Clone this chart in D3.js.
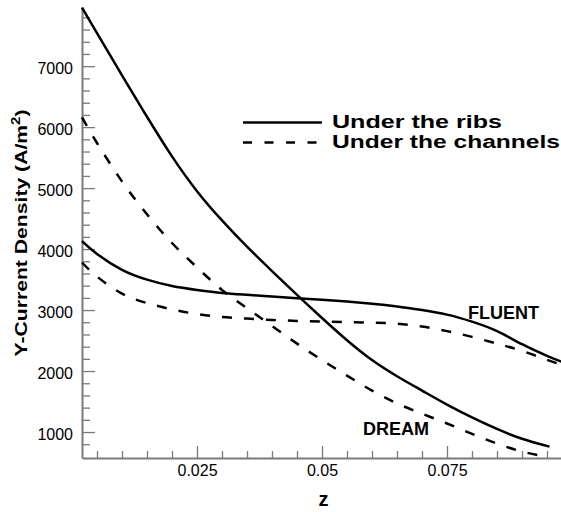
<!DOCTYPE html>
<html>
<head>
<meta charset="utf-8">
<script src="https://cdn.jsdelivr.net/npm/d3@7"></script>
<style>
  html, body { margin: 0; padding: 0; background: #fff; }
  svg { display: block; }
  text { font-family: "Liberation Sans", Arial, Helvetica, sans-serif; fill: #000; }
</style>
</head>
<body>
<svg id="chart" width="561" height="512"></svg>
<script>
// Sample positions along z (shared part of every profile)
const zSamples = [0.002, 0.005, 0.01, 0.015, 0.02, 0.025, 0.03, 0.035, 0.04, 0.045,
                  0.05, 0.055, 0.06, 0.065, 0.07, 0.075, 0.08, 0.085, 0.09];
const zDreamEnd = [0.0955];
const zDreamChanEnd = [0.095];
const zFluentEnd = [0.095, 0.098];

// Y-current density (A/m^2)
const dreamRibs      = [7960, 7540, 6850, 6170, 5520, 4950, 4470, 4040, 3640, 3250,
                        2870, 2505, 2180, 1915, 1680, 1450, 1240, 1050, 890, 760];
const dreamChannels  = [6160, 5740, 5110, 4570, 4100, 3700, 3330, 3030, 2740, 2450,
                        2180, 1925, 1680, 1470, 1300, 1140, 970, 810, 680, 590];
const fluentRibs     = [4130, 3920, 3660, 3500, 3395, 3330, 3280, 3250, 3222, 3195,
                        3170, 3140, 3105, 3060, 3000, 2925, 2810, 2655, 2440, 2250, 2150];
const fluentChannels = [3780, 3550, 3270, 3115, 3010, 2935, 2885, 2860, 2838, 2822,
                        2810, 2802, 2795, 2775, 2730, 2655, 2560, 2450, 2330, 2185, 2100];

// Axis ticks
const xMajorTicks = [0.025, 0.05, 0.075];
const xTickLabels = ["0.025", "0.05", "0.075"];
const yMajorTicks = [1000, 2000, 3000, 4000, 5000, 6000, 7000];

const legendLabels = ["Under the ribs", "Under the channels"];
const solverLabels = ["FLUENT", "DREAM"];

const svg = d3.select("#chart");

const x = d3.scaleLinear().domain([0.002, 0.098]).range([82, 562]);
const y = d3.scaleLinear().domain([574, 7970]).range([458, 7]);

const axisColor = "#7a7a7a";

// Minor ticks
const xMinor = d3.range(1, 20).map(i => +(i * 0.005).toFixed(3)).filter(v => !xMajorTicks.includes(v));
const yMinor = d3.range(800, 7801, 200).filter(v => v % 1000 !== 0);

svg.append("g")
  .attr("transform", `translate(0,${y.range()[0]})`)
  .call(d3.axisBottom(x).tickValues(xMinor).tickSizeInner(-7).tickSizeOuter(0).tickFormat(""))
  .call(g => g.select(".domain").remove())
  .call(g => g.selectAll("line").attr("stroke", axisColor).attr("stroke-width", 1.3));

svg.append("g")
  .attr("transform", `translate(${x.range()[0]},0)`)
  .call(d3.axisLeft(y).tickValues(yMinor).tickSizeInner(-8).tickSizeOuter(0).tickFormat(""))
  .call(g => g.select(".domain").remove())
  .call(g => g.selectAll("line").attr("stroke", axisColor).attr("stroke-width", 1.3));

// Major axes
const xAxis = svg.append("g")
  .attr("transform", `translate(0,${y.range()[0]})`)
  .call(d3.axisBottom(x).tickValues(xMajorTicks)
    .tickFormat((d, i) => xTickLabels[i])
    .tickSizeInner(-12).tickSizeOuter(0).tickPadding(7));
xAxis.select(".domain").attr("stroke", axisColor).attr("stroke-width", 2);
xAxis.selectAll("line").attr("stroke", axisColor).attr("stroke-width", 1.3);
xAxis.selectAll("text").attr("font-size", 16).attr("fill", "#000")
  .attr("font-family", "Liberation Sans, Arial, sans-serif");

const yAxis = svg.append("g")
  .attr("transform", `translate(${x.range()[0]},0)`)
  .call(d3.axisLeft(y).tickValues(yMajorTicks).tickFormat(d3.format("d"))
    .tickSizeInner(-13).tickSizeOuter(0).tickPadding(9));
yAxis.select(".domain").attr("stroke", axisColor).attr("stroke-width", 2);
yAxis.selectAll("line").attr("stroke", axisColor).attr("stroke-width", 1.3);
yAxis.selectAll("text").attr("font-size", 16).attr("fill", "#000").attr("dy", "0.48em")
  .attr("font-family", "Liberation Sans, Arial, sans-serif");

// Axis titles
svg.append("text")
  .attr("x", 323.5).attr("y", 506)
  .attr("text-anchor", "middle")
  .attr("font-size", 20).attr("font-weight", "bold")
  .text("z");

const yTitle = svg.append("text")
  .attr("transform", "translate(27,233) rotate(-90)")
  .attr("text-anchor", "middle")
  .attr("font-size", 17).attr("font-weight", "bold")
  .attr("textLength", 247).attr("lengthAdjust", "spacingAndGlyphs");
yTitle.append("tspan").text("Y-Current Density (A/m");
yTitle.append("tspan").attr("dy", -7).attr("font-size", 12).text("2");
yTitle.append("tspan").attr("dy", 7).text(")");

// Profiles, drawn as smooth splines through the samples
const line = d3.line()
  .x(d => x(d[0]))
  .y(d => y(d[1]))
  .curve(d3.curveNatural);

const series = [
  { z: zSamples.concat(zDreamEnd), v: dreamRibs, dash: null },
  { z: zSamples.concat(zDreamChanEnd), v: dreamChannels, dash: "10,12" },
  { z: zSamples.concat(zFluentEnd), v: fluentRibs, dash: null },
  { z: zSamples.concat(zFluentEnd), v: fluentChannels, dash: "10,12" }
];

svg.append("g").selectAll("path")
  .data(series)
  .join("path")
  .attr("d", s => line(s.z.map((z, i) => [z, s.v[i]])))
  .attr("fill", "none")
  .attr("stroke", "#000")
  .attr("stroke-width", 2.5)
  .attr("stroke-dasharray", s => s.dash);

// Solver annotations
svg.append("text")
  .attr("x", 468).attr("y", 319)
  .attr("font-size", 18).attr("font-weight", "bold")
  .text(solverLabels[0]);
svg.append("text")
  .attr("x", 363).attr("y", 435)
  .attr("font-size", 18).attr("font-weight", "bold")
  .text(solverLabels[1]);

// Legend
const legend = svg.append("g");
const legendRows = [
  { y: 122.5, dash: null, len: 170 },
  { y: 142.5, dash: "9,12.5", len: 228 }
];
legendRows.forEach((r, i) => {
  legend.append("line")
    .attr("x1", 243).attr("x2", 322)
    .attr("y1", r.y).attr("y2", r.y)
    .attr("stroke", "#000").attr("stroke-width", 2.5)
    .attr("stroke-dasharray", r.dash);
  legend.append("text")
    .attr("x", 332).attr("y", r.y + 5.5)
    .attr("font-size", 18).attr("font-weight", "bold")
    .attr("textLength", r.len).attr("lengthAdjust", "spacingAndGlyphs")
    .text(legendLabels[i]);
});
</script>
</body>
</html>
